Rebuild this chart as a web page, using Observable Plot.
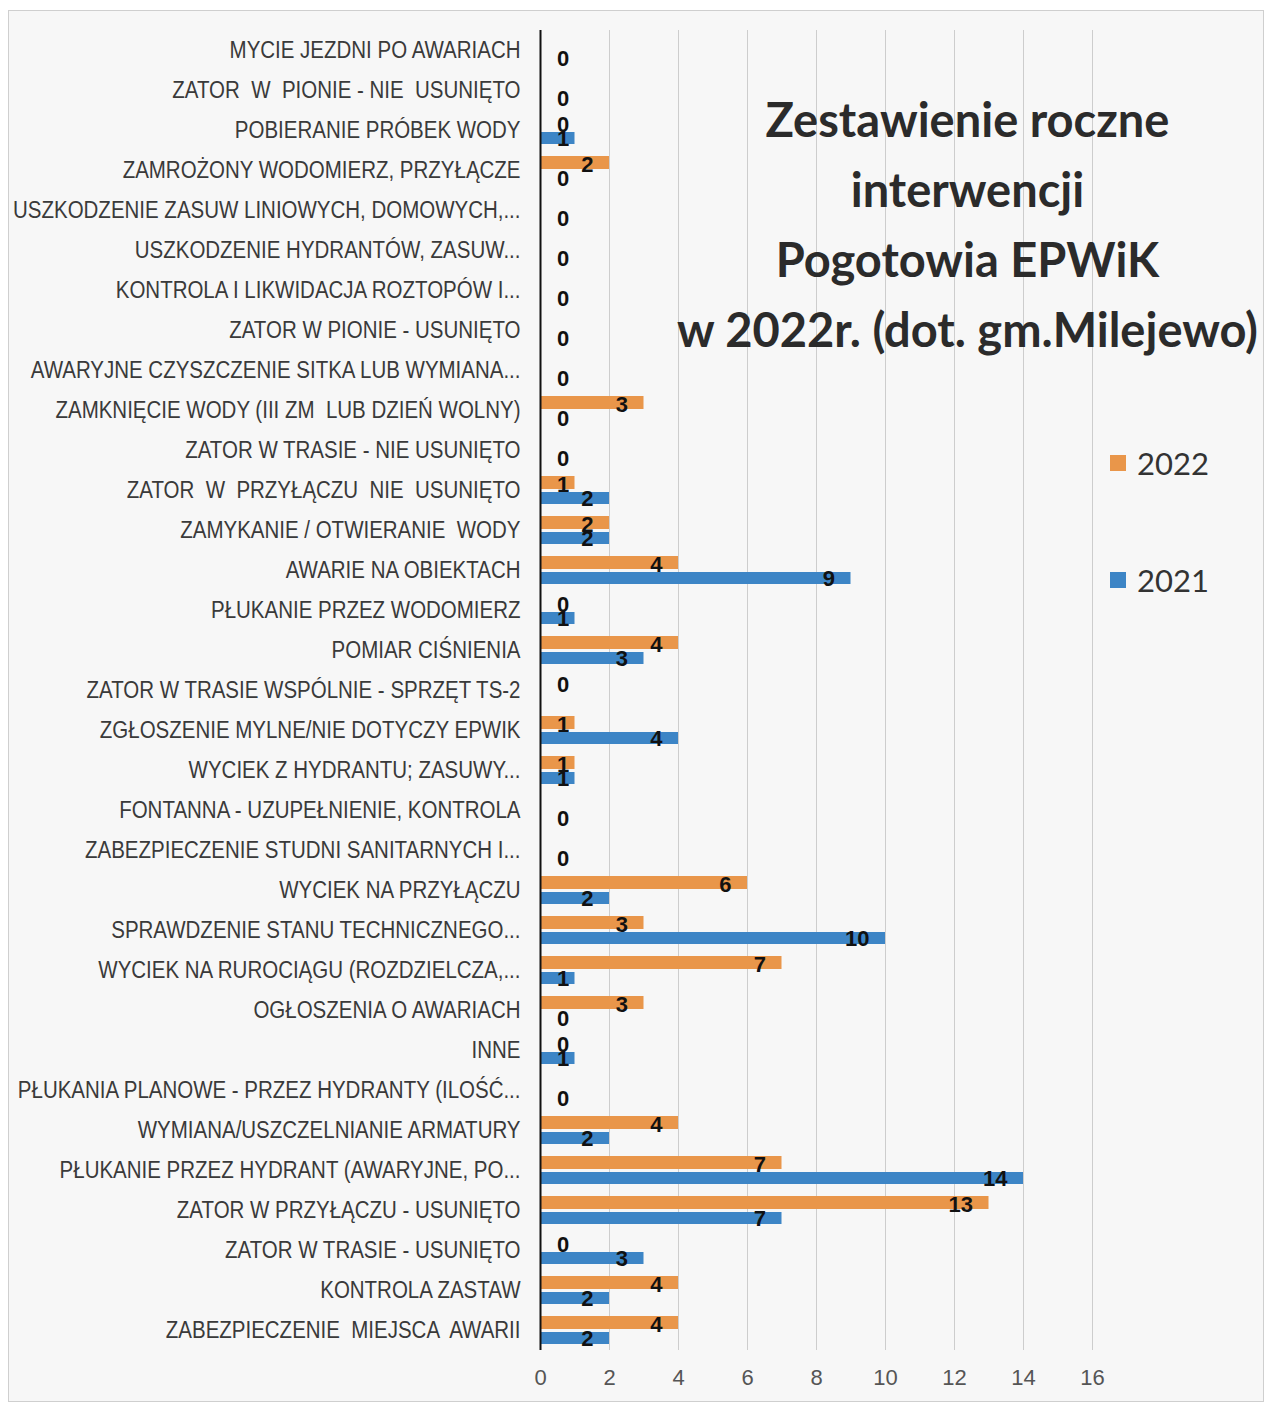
<!DOCTYPE html>
<html><head><meta charset="utf-8">
<script src="https://cdn.jsdelivr.net/npm/d3@7"></script>
<script src="https://cdn.jsdelivr.net/npm/@observablehq/plot@0.6"></script>
<style>
body{margin:0;background:#fff;}
#wrap{position:relative;width:1269px;height:1402px;overflow:hidden;}
#frame{position:absolute;left:8px;top:10px;width:1256px;height:1392px;border:1px solid #cfcfcf;background:#f7f7f7;box-sizing:border-box;}
#chart{position:absolute;left:0;top:0;}
#chart svg text{white-space:pre;}
#title{position:absolute;left:660px;width:615px;top:84px;text-align:center;font-family:Lato,"Liberation Sans",sans-serif;font-weight:bold;font-size:47px;line-height:70px;color:#2b2b2b;}
.leg{position:absolute;left:1110px;font-family:Lato,"Liberation Sans",sans-serif;font-size:31px;color:#333;display:flex;align-items:center;}
.leg span.sw{display:inline-block;width:16px;height:16px;margin-right:11px;}
</style>
</head><body>
<div id="wrap">
<div id="frame"></div>
<div id="chart"></div>
<div id="title">Zestawienie roczne<br>interwencji<br>Pogotowia EPWiK<br>w 2022r. (dot. gm.Milejewo)</div>
<div class="leg" style="top:444px"><span class="sw" style="background:#E9964A"></span>2022</div>
<div class="leg" style="top:561px"><span class="sw" style="background:#3D85C6"></span>2021</div>
</div>
<script>
const categories = [
  "MYCIE JEZDNI PO AWARIACH",
  "ZATOR  W  PIONIE - NIE  USUNIĘTO",
  "POBIERANIE PRÓBEK WODY",
  "ZAMROŻONY WODOMIERZ, PRZYŁĄCZE",
  "USZKODZENIE ZASUW LINIOWYCH, DOMOWYCH,...",
  "USZKODZENIE HYDRANTÓW, ZASUW...",
  "KONTROLA I LIKWIDACJA ROZTOPÓW I...",
  "ZATOR W PIONIE - USUNIĘTO",
  "AWARYJNE CZYSZCZENIE SITKA LUB WYMIANA...",
  "ZAMKNIĘCIE WODY (III ZM  LUB DZIEŃ WOLNY)",
  "ZATOR W TRASIE - NIE USUNIĘTO",
  "ZATOR  W  PRZYŁĄCZU  NIE  USUNIĘTO",
  "ZAMYKANIE / OTWIERANIE  WODY",
  "AWARIE NA OBIEKTACH",
  "PŁUKANIE PRZEZ WODOMIERZ",
  "POMIAR CIŚNIENIA",
  "ZATOR W TRASIE WSPÓLNIE - SPRZĘT TS-2",
  "ZGŁOSZENIE MYLNE/NIE DOTYCZY EPWIK",
  "WYCIEK Z HYDRANTU; ZASUWY...",
  "FONTANNA - UZUPEŁNIENIE, KONTROLA",
  "ZABEZPIECZENIE STUDNI SANITARNYCH I...",
  "WYCIEK NA PRZYŁĄCZU",
  "SPRAWDZENIE STANU TECHNICZNEGO...",
  "WYCIEK NA RUROCIĄGU (ROZDZIELCZA,...",
  "OGŁOSZENIA O AWARIACH",
  "INNE",
  "PŁUKANIA PLANOWE - PRZEZ HYDRANTY (ILOŚĆ...",
  "WYMIANA/USZCZELNIANIE ARMATURY",
  "PŁUKANIE PRZEZ HYDRANT (AWARYJNE, PO...",
  "ZATOR W PRZYŁĄCZU - USUNIĘTO",
  "ZATOR W TRASIE - USUNIĘTO",
  "KONTROLA ZASTAW",
  "ZABEZPIECZENIE  MIEJSCA  AWARII"
];
const values2022 = [null,null,0,2,null,null,null,null,null,3,null,1,2,4,0,4,0,1,1,null,null,6,3,7,3,0,null,4,7,13,0,4,4];
const values2021 = [0,0,1,0,0,0,0,0,0,0,0,2,2,9,1,3,null,4,1,0,0,2,10,1,0,1,0,2,14,7,3,2,2];
const seriesNames = ["2022","2021"];
const seriesColors = ["#E9964A","#3D85C6"];
const xTicks = [0,2,4,6,8,10,12,14,16];

const rows2022 = categories.map((c,i)=>({cat:c, series:seriesNames[0], value:values2022[i]})).filter(d=>d.value!=null);
const rows2021 = categories.map((c,i)=>({cat:c, series:seriesNames[1], value:values2021[i]})).filter(d=>d.value!=null);

const labelX = d => Math.max(d.value, 1.3);
const font = '"Liberation Sans",Arial,sans-serif';

const chart = Plot.plot({
  width:1269, height:1402,
  marginLeft:540, marginRight:177, marginTop:30, marginBottom:52,
  style:{background:"transparent", fontFamily:font},
  x:{domain:[0,16], ticks:xTicks},
  y:{domain:categories, padding:0},
  marks:[
    Plot.gridX(xTicks.filter(t=>t>0), {stroke:"#b0b0b0", strokeOpacity:0.6, strokeWidth:1}),
    Plot.barX(rows2022, {x:"value", y:"cat", fill:seriesColors[0], insetTop:6, insetBottom:21}),
    Plot.barX(rows2021, {x:"value", y:"cat", fill:seriesColors[1], insetTop:22, insetBottom:6}),
    Plot.ruleX([0], {stroke:"#111", strokeWidth:2}),
    Plot.text(rows2022, {x:labelX, y:"cat", text:"value", dy:-6, dx:-16, textAnchor:"end", fontSize:22, fontWeight:"bold", fill:"#111"}),
    Plot.text(rows2021, {x:labelX, y:"cat", text:"value", dy:8, dx:-16, textAnchor:"end", fontSize:22, fontWeight:"bold", fill:"#111"}),
    Plot.axisY({tickSize:0, tickPadding:20, fontSize:24, color:"#3a3a3a", label:null}),
    Plot.axisX({ticks:xTicks, tickSize:0, tickPadding:19, fontSize:22, color:"#555", label:null})
  ]
});
document.getElementById("chart").appendChild(chart);

// condense the category labels horizontally (reference uses a narrow face), keeping right edges fixed
const yTexts = chart.querySelectorAll('g[aria-label="y-axis tick label"] text');
let maxLen = 0;
yTexts.forEach(t => { maxLen = Math.max(maxLen, t.getComputedTextLength()); });
const factor = 508 / maxLen;
yTexts.forEach(t => {
  const x = +(t.getAttribute("x") || 0);
  const tr = t.getAttribute("transform") || "";
  t.setAttribute("x", 0);
  t.setAttribute("transform", `${tr} translate(${x},0) scale(${factor.toFixed(4)},1)`);
});
</script>
</body></html>
